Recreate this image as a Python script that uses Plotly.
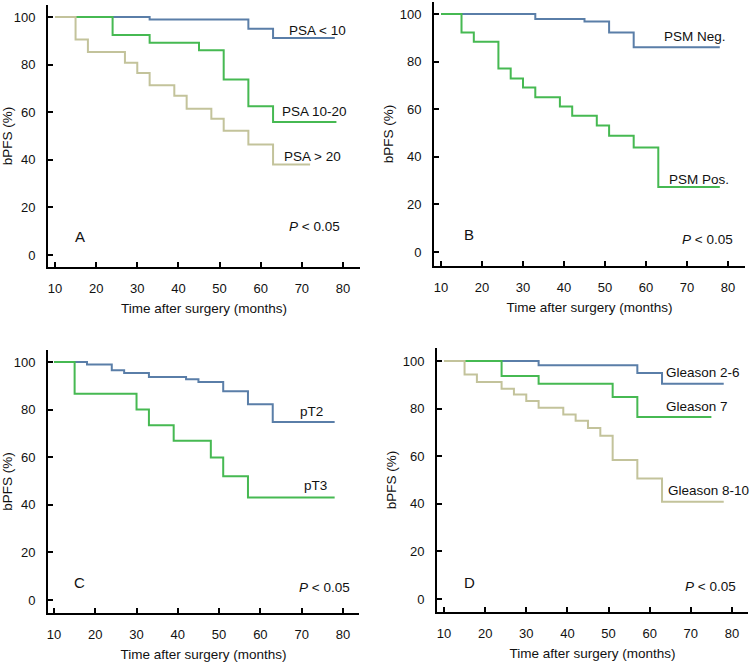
import plotly.graph_objects as go

# ---------------- data ----------------
# Panel A: PSA
a_psa_lt10_t = [10, 33, 57, 63, 78]
a_psa_lt10_s = [100, 98.9, 95.1, 91.2, 91.2]
a_psa_10_20_t = [10, 24, 33, 45, 51, 57, 63, 78.4]
a_psa_10_20_s = [100, 92.4, 89.2, 86.0, 73.7, 62.5, 55.9, 55.9]
a_psa_gt20_t = [10, 15, 18, 27, 30, 33, 39, 42, 48, 51, 57, 63, 72]
a_psa_gt20_s = [100, 90.5, 85.3, 80.8, 76.5, 71.3, 66.9, 61.5, 57.3, 52.2, 46.4, 38.0, 38.0]

# Panel B: PSM
b_neg_t = [10, 33, 45, 51, 57, 78]
b_neg_s = [100, 97.9, 96.8, 92.2, 86.0, 86.0]
b_pos_t = [10, 15, 18, 24, 27, 30, 33, 39, 42, 48, 51, 57, 63, 78]
b_pos_s = [100, 92.2, 88.3, 77.1, 72.9, 69.1, 65.0, 61.1, 57.2, 53.1, 48.8, 43.9, 27.3, 27.3]

# Panel C: pT stage
c_pt2_t = [10, 18, 24, 27, 33, 42, 45, 51, 57, 63, 78]
c_pt2_s = [100, 99.0, 96.5, 95.4, 93.7, 92.7, 91.6, 87.7, 82.2, 74.8, 74.8]
c_pt3_t = [10, 15, 30, 33, 39, 48, 51, 57, 78]
c_pt3_s = [100, 86.7, 80.0, 73.4, 66.9, 59.9, 52.0, 43.1, 43.1]

# Panel D: Gleason
d_g26_t = [10, 33, 57, 63, 78]
d_g26_s = [100, 98.2, 95.0, 90.5, 90.5]
d_g7_t = [10, 24, 33, 51, 57, 75]
d_g7_s = [100, 93.7, 90.5, 84.9, 76.5, 76.5]
d_g810_t = [10, 15, 18, 24, 27, 30, 33, 39, 42, 45, 48, 51, 57, 63, 78]
d_g810_s = [100, 94.4, 91.2, 88.4, 86.0, 83.2, 80.4, 77.5, 74.9, 71.9, 68.6, 58.4, 50.7, 40.9, 40.9]

x_ticks = [10, 20, 30, 40, 50, 60, 70, 80]
y_ticks = [0, 20, 40, 60, 80, 100]

BLUE = "#5a7ea8"
GREEN = "#46b952"
KHAKI = "#c3c39b"
FONT = "Liberation Sans, Arial, sans-serif"

W, H = 750, 663

# panel geometry: (left px, right px, top px, bottom px, xrange, yrange)
panels = {
    "A": (48, 360, 5, 267, [8.30, 84.13], [-5.04, 105.04]),
    "B": (434, 745, 2, 266, [8.29, 84.15], [-5.88, 105.04]),
    "C": (48, 359, 350, 613, [8.55, 83.9], [-5.46, 105.04]),
    "D": (437, 748, 348, 612, [8.30, 83.9], [-5.46, 105.5]),
}
axis_ids = {"A": ("x", "y"), "B": ("x2", "y2"), "C": ("x3", "y3"), "D": ("x4", "y4")}

fig = go.Figure()

def add_curve(panel, t, s, color):
    xa, ya = axis_ids[panel]
    fig.add_trace(go.Scatter(x=t, y=s, mode="lines", line=dict(color=color, width=2, shape="hv"),
                             xaxis=xa, yaxis=ya, showlegend=False, hoverinfo="skip"))

add_curve("A", a_psa_lt10_t, a_psa_lt10_s, BLUE)
add_curve("A", a_psa_10_20_t, a_psa_10_20_s, GREEN)
add_curve("A", a_psa_gt20_t, a_psa_gt20_s, KHAKI)
add_curve("B", b_neg_t, b_neg_s, BLUE)
add_curve("B", b_pos_t, b_pos_s, GREEN)
add_curve("C", c_pt2_t, c_pt2_s, BLUE)
add_curve("C", c_pt3_t, c_pt3_s, GREEN)
add_curve("D", d_g26_t, d_g26_s, BLUE)
add_curve("D", d_g7_t, d_g7_s, GREEN)
add_curve("D", d_g810_t, d_g810_s, KHAKI)

layout = dict(width=W, height=H, margin=dict(l=0, r=0, t=0, b=0),
              paper_bgcolor="white", plot_bgcolor="white",
              font=dict(family=FONT, size=13, color="#111"))

for i, (p, (l, r, t, b, xr, yr)) in enumerate(panels.items()):
    sfx = "" if i == 0 else str(i + 1)
    xa, ya = axis_ids[p]
    layout["xaxis" + sfx] = dict(
        domain=[l / W, r / W], range=xr, anchor=ya, tickvals=x_ticks,
        ticks="inside", ticklen=5, tickwidth=1.5, tickcolor="black",
        showline=True, linecolor="black", linewidth=2, showgrid=False, zeroline=False,
        tickfont=dict(size=13, family=FONT, color="#111"), ticklabelstandoff=8,
        title=dict(text="Time after surgery (months)", font=dict(size=13.5, family=FONT, color="#111"), standoff=9),
        fixedrange=True)
    layout["yaxis" + sfx] = dict(
        domain=[1 - b / H, 1 - t / H], range=yr, anchor=xa, tickvals=y_ticks,
        ticks="inside", ticklen=5, tickwidth=1.5, tickcolor="black",
        showline=True, linecolor="black", linewidth=2, showgrid=False, zeroline=False,
        tickfont=dict(size=13, family=FONT, color="#111"), ticklabelstandoff=8,
        title=dict(text="bPFS (%)", font=dict(size=13.5, family=FONT, color="#111"), standoff=3),
        fixedrange=True)

fig.update_layout(**layout)

def note(panel, x, y, text, size=13.5, xanchor="left"):
    xa, ya = axis_ids[panel]
    fig.add_annotation(x=x, y=y, xref=xa, yref=ya, text=text, showarrow=False,
                       xanchor=xanchor, yanchor="middle",
                       font=dict(size=size, family=FONT, color="#111"))

# curve labels
note("A", 66.4, 94.4, "PSA &lt; 10")
note("A", 64.6, 60.1, "PSA 10-20")
note("A", 65.1, 41.3, "PSA &gt; 20")
note("B", 63.9, 90.5, "PSM Neg.")
note("B", 65.1, 30.3, "PSM Pos.")
note("C", 69.1, 79.4, "pT2")
note("C", 70.1, 48.0, "pT3")
note("D", 63.6, 95.0, "Gleason 2-6")
note("D", 63.6, 81.0, "Gleason 7")
note("D", 64.0, 45.5, "Gleason 8-10")

# p-values
note("A", 66.5, 11.9, "<i>P</i> &lt; 0.05")
note("B", 68.2, 5.2, "<i>P</i> &lt; 0.05")
note("C", 68.9, 5.3, "<i>P</i> &lt; 0.05")
note("D", 68.2, 5.3, "<i>P</i> &lt; 0.05")

# panel letters
note("A", 16.0, 7.7, "A", size=15, xanchor="center")
note("B", 16.9, 7.3, "B", size=15, xanchor="center")
note("C", 16.3, 7.3, "C", size=15, xanchor="center")
note("D", 16.3, 7.0, "D", size=15, xanchor="center")

fig.write_html("out.html", config={"displayModeBar": False},
               post_script="document.body.style.margin='0px';document.body.style.overflow='hidden';")
